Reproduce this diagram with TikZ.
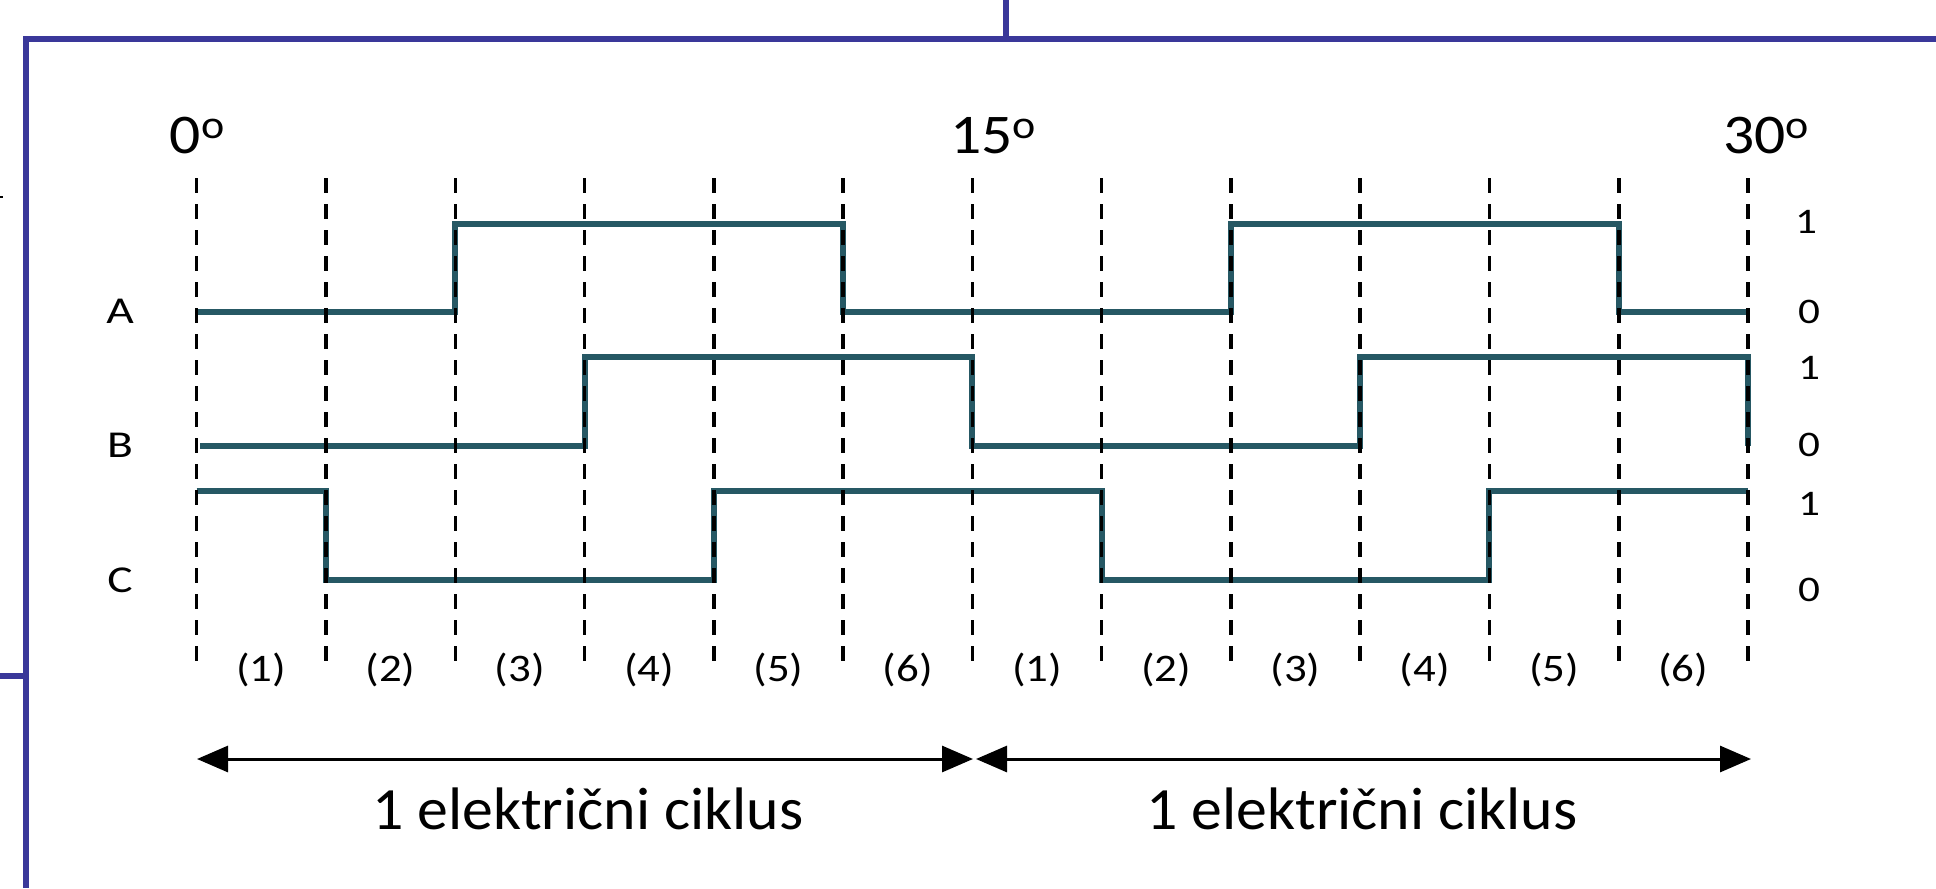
\documentclass[tikz,border=0pt]{standalone}
\usepackage{fontspec}
\setmainfont{Carlito}
\newfontfamily\fdeg[FakeStretch=1.1]{Carlito}
\newfontfamily\fseg[FakeStretch=1.15]{Carlito}
\newfontfamily\fchan[FakeStretch=1.25]{Carlito}
\newfontfamily\flvl[FakeStretch=1.2]{Carlito}
\newfontfamily\fcyc[FakeStretch=1.03]{Carlito}
\usetikzlibrary{arrows.meta}
\definecolor{frameblue}{RGB}{58,56,154}
\definecolor{wave}{RGB}{38,88,100}
\newcommand{\degsym}{\raisebox{7.5pt}{\fontsize{20}{20}\selectfont o}}
\begin{document}
\begin{tikzpicture}[x=0.5pt,y=-0.5pt,
 grid/.style={black, line width=1.75pt, dash pattern=on 7.5pt off 5.5pt},
 sig/.style={wave, line width=3pt, line join=miter},
 frm/.style={frameblue, line width=3pt},
 deg/.style={font=\fdeg\fontsize{28}{30}\selectfont, anchor=base, inner sep=0pt},
 seg/.style={font=\fseg\fontsize{19.5}{21}\selectfont, inner sep=0pt},
 chan/.style={font=\fchan\fontsize{19}{21}\selectfont, inner sep=0pt},
 lvl/.style={font=\flvl\fontsize{18}{20}\selectfont, inner sep=0pt},
 cyc/.style={font=\fcyc\fontsize{30}{32}\selectfont, inner sep=0pt},
 cycarrow/.style={black, line width=1.5pt, {Triangle[length=15.5pt,width=13pt]}-{Triangle[length=15.5pt,width=13pt]}}
]
\useasboundingbox (0,0) rectangle (1936,888);
\fill[white] (0,0) rectangle (1936,888);
% frame
\draw[frm] (1936,39) -- (25.5,39) -- (25.5,888);
\draw[frm] (1006,0) -- (1006,39);
\draw[frm] (0,676) -- (25.5,676);
\draw[black, line width=0.6pt] (0,197) -- (3,197);
% waveforms
\draw[sig] (196.7,312) -- (455.2,312) -- (455.2,224) -- (843.1,224) -- (843.1,312) -- (1230.9,312) -- (1230.9,224) -- (1618.7,224) -- (1618.7,312) -- (1748,312);
\draw[sig] (200,446) -- (584.5,446) -- (584.5,357) -- (972.3,357) -- (972.3,446) -- (1360.1,446) -- (1360.1,357) -- (1748,357) -- (1748,446);
\draw[sig] (196.7,491) -- (326,491) -- (326,580) -- (713.8,580) -- (713.8,491) -- (1101.6,491) -- (1101.6,580) -- (1489.4,580) -- (1489.4,491) -- (1748,491);
% dashed grid
\foreach \i in {0,...,12} {
  \pgfmathsetmacro\xx{196.7+129.275*\i}
  \draw[grid] (\xx,178) -- (\xx,672);
}
% segment labels
\foreach \i/\t in {0/1,1/2,2/3,3/4,4/5,5/6,6/1,7/2,8/3,9/4,10/5,11/6} {
  \pgfmathsetmacro\xx{196.7+129.275*\i+64.6}
  \node[seg] (s\i) at (\xx,670) {(\t)};
}
% degree labels
\node[deg] (d0) at (197,154) {0\degsym};
\node[deg] (d15) at (993,154) {15\degsym};
\node[deg] (d30) at (1766,154) {30\degsym};
% channel labels
\node[chan] (la) at (120,311.5) {A};
\node[chan] (lb) at (120,445) {B};
\node[chan] (lc) at (120,580) {C};
% level labels
\node[lvl] (a1) at (1806,222) {1};
\node[lvl] (a0) at (1809,312) {0};
\node[lvl] (b1) at (1809,368) {1};
\node[lvl] (b0) at (1809,445) {0};
\node[lvl] (c1) at (1809,504) {1};
\node[lvl] (c0) at (1809,590) {0};
% cycle arrows
\coordinate (p0) at (197,759);
\coordinate (p1) at (973,759);
\coordinate (p2) at (976,759);
\coordinate (p3) at (1751,759);
\draw[cycarrow] (p0) -- (p1);
\draw[cycarrow] (p2) -- (p3);
\node[cyc] (cyc1) at (588,809) {1 električni ciklus};
\node[cyc] (cyc2) at (1362,809) {1 električni ciklus};
\end{tikzpicture}
\end{document}
